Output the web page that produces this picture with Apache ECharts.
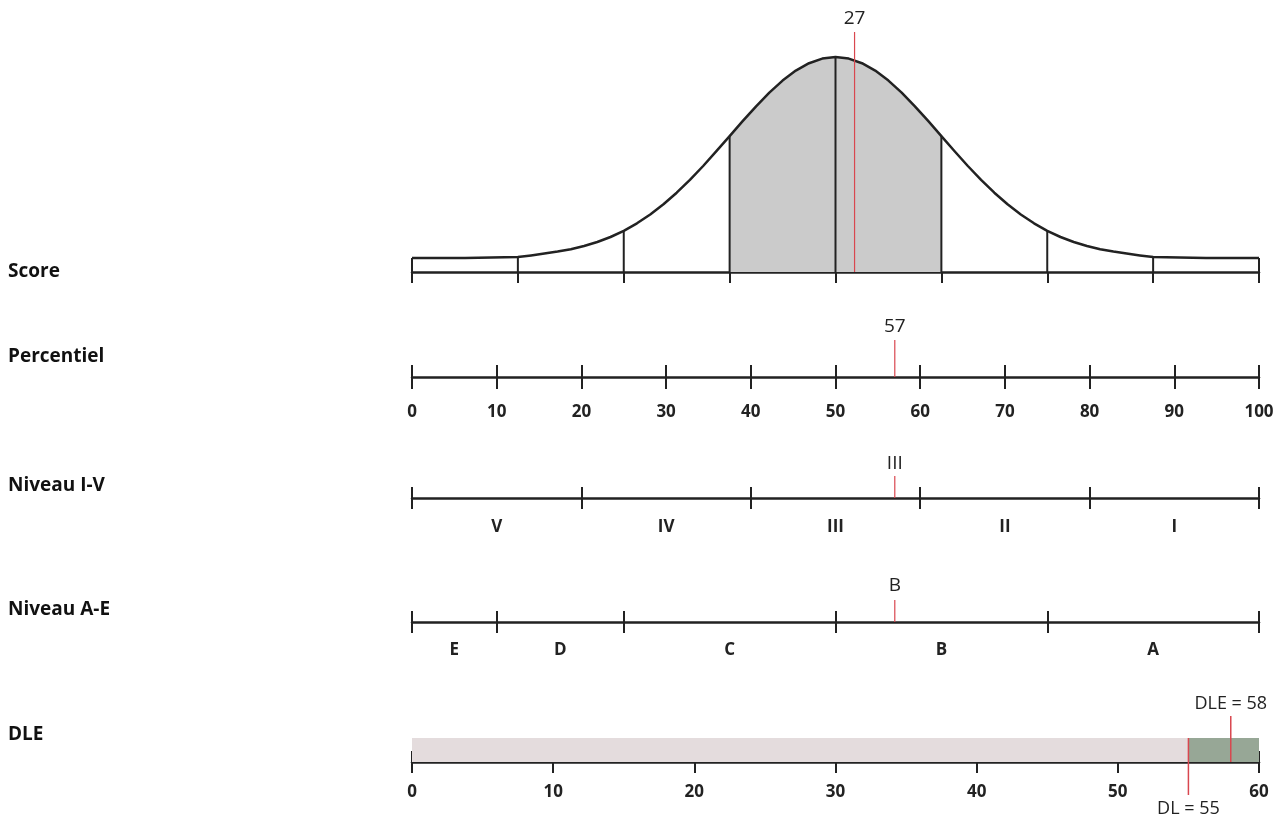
<!DOCTYPE html>
<html>
<head>
<meta charset="utf-8">
<script src="https://cdn.jsdelivr.net/npm/echarts@6/dist/echarts.min.js"></script>
<style>html,body{margin:0;padding:0;background:#fff}#c{width:1280px;height:821px}</style>
</head>
<body>
<div id="c"></div>
<script>
// ---------- data ----------
const rowTitles = ['Score', 'Percentiel', 'Niveau I-V', 'Niveau A-E', 'DLE'];

// Score row: normal curve in z units, heights (px above the axis)
const scoreZ = [-4, -3.5, -3, -2.875, -2.75, -2.625, -2.5, -2.375, -2.25, -2.125, -2, -1.875, -1.75, -1.625, -1.5, -1.375, -1.25, -1.125, -1, -0.875, -0.75, -0.625, -0.5, -0.375, -0.25, -0.125,
  0, 0.125, 0.25, 0.375, 0.5, 0.625, 0.75, 0.875, 1, 1.125, 1.25, 1.375, 1.5, 1.625, 1.75, 1.875, 2, 2.125, 2.25, 2.375, 2.5, 2.625, 2.75, 2.875, 3, 3.5, 4];
const scoreCurve = [14, 14, 15, 16.6, 18.4, 20.4, 22.8, 26, 30, 35, 41.2, 48.7, 57.5, 67.7, 79.3, 92.1, 106, 120.8, 135.9, 151.1, 165.7, 179.3, 191.4, 201.4, 208.8, 213.4,
  215, 213.4, 208.8, 201.4, 191.4, 179.3, 165.7, 151.1, 135.9, 120.8, 106, 92.1, 79.3, 67.7, 57.5, 48.7, 41.2, 35, 30, 26, 22.8, 20.4, 18.4, 16.6, 15, 14, 14];
const scoreTicks = [-4, -3, -2, -1, 0, 1, 2, 3, 4];
const scoreShadeFrom = -1, scoreShadeTo = 1;
const scoreMarker = 0.18, scoreMarkerLabel = '27';

// Percentiel row
const percentielTicks = [0, 10, 20, 30, 40, 50, 60, 70, 80, 90, 100];
const percentielMarker = 57, percentielMarkerLabel = '57';

// Niveau I-V row
const niveauIVBounds = [0, 20, 40, 60, 80, 100];
const niveauIVLabels = ['V', 'IV', 'III', 'II', 'I'];
const niveauIVMarker = 57, niveauIVMarkerLabel = 'III';

// Niveau A-E row
const niveauAEBounds = [0, 10, 25, 50, 75, 100];
const niveauAELabels = ['E', 'D', 'C', 'B', 'A'];
const niveauAEMarker = 57, niveauAEMarkerLabel = 'B';

// DLE row
const dleTicks = [0, 10, 20, 30, 40, 50, 60];
const dleBands = [0, 55, 60];
const dlValue = 55, dlLabel = 'DL = 55';
const dleValue = 58, dleLabel = 'DLE = 58';

// ---------- styles ----------
const FONT = 'Open Sans';
const INK = '#222222';
const RED = '#d9474f';
const bandColors = ['#e4dcdd', '#97a796'];

const mid = b => b.slice(0, -1).map((v, i) => (v + b[i + 1]) / 2);

const grids = [
  {left: 412, right: 21, top: 32, height: 240},   // score, axis y=272
  {left: 412, right: 21, top: 340, height: 37},   // percentiel, axis y=377
  {left: 412, right: 21, top: 476, height: 22},   // I-V axis y=498
  {left: 412, right: 21, top: 600, height: 22},   // A-E axis y=622
  {left: 412, right: 21, top: 716, height: 46}    // DLE axis y=762
];

function axisPair(grid, min, max, tickVals, labelVals, labelFmt, tickLen, labelMargin) {
  const base = {
    type: 'value', gridIndex: grid, min: min, max: max, position: 'bottom',
    splitLine: {show: false},
    axisLine: {show: true, onZero: false, lineStyle: {color: INK, width: 2.5}}
  };
  const outer = Object.assign({}, base, {
    axisTick: {show: true, length: tickLen, inside: false, customValues: tickVals, lineStyle: {color: INK, width: 2}},
    axisLabel: labelVals ? {show: true, customValues: labelVals, formatter: labelFmt, margin: labelMargin,
      color: INK, fontFamily: FONT, fontWeight: 'bold', fontSize: 17} : {show: false}
  });
  const inner = Object.assign({}, base, {
    axisLine: {show: false},
    axisTick: {show: true, length: tickLen, inside: true, customValues: tickVals, lineStyle: {color: INK, width: 2}},
    axisLabel: {show: false}
  });
  return [outer, inner];
}

const xAxes = [];
// 0: score (ticks only downward)
xAxes.push({
  type: 'value', gridIndex: 0, min: -4, max: 4, position: 'bottom', splitLine: {show: false},
  axisLine: {show: true, onZero: false, lineStyle: {color: INK, width: 2.5}},
  axisTick: {show: true, length: 11, customValues: scoreTicks, lineStyle: {color: INK, width: 2}},
  axisLabel: {show: false}
});
// 1,2 percentiel
xAxes.push(...axisPair(1, 0, 100, percentielTicks, percentielTicks, v => String(v), 12, 27));
// 3,4 I-V
const ivMid = mid(niveauIVBounds);
xAxes.push(...axisPair(2, 0, 100, niveauIVBounds, ivMid, v => niveauIVLabels[ivMid.indexOf(v)] || '', 11, 21));
// 5,6 A-E
const aeMid = mid(niveauAEBounds);
xAxes.push(...axisPair(3, 0, 100, niveauAEBounds, aeMid, v => niveauAELabels[aeMid.indexOf(v)] || '', 11, 20));
// 7,8 DLE
xAxes.push(...axisPair(4, 0, 60, dleTicks, dleTicks, v => String(v), 11, 22));

const yAxes = [
  {type: 'value', gridIndex: 0, min: 0, max: 240, show: false},
  {type: 'value', gridIndex: 1, min: 0, max: 1, show: false},
  {type: 'value', gridIndex: 2, min: 0, max: 1, show: false},
  {type: 'value', gridIndex: 3, min: 0, max: 1, show: false},
  {type: 'value', gridIndex: 4, min: 0, max: 46, show: false}
];

const curveData = scoreZ.map((z, i) => [z, scoreCurve[i]]);
const shadeData = curveData.filter(d => d[0] >= scoreShadeFrom && d[0] <= scoreShadeTo);
const tickData = scoreTicks.map(z => [z, scoreCurve[scoreZ.indexOf(z)]]);

function markerSeries(xi, yi, value, label, top, textGap) {
  return {
    type: 'custom', xAxisIndex: xi, yAxisIndex: yi, data: [[value, top]], z: 5,
    renderItem: function (params, api) {
      const p0 = api.coord([api.value(0), 0]);
      const p1 = api.coord([api.value(0), api.value(1)]);
      return {type: 'group', children: [
        {type: 'line', shape: {x1: p0[0], y1: p0[1], x2: p1[0], y2: p1[1]}, style: {stroke: RED, lineWidth: 1.2}},
        {type: 'text', style: {text: label, x: p1[0], y: p1[1] - textGap, align: 'center', verticalAlign: 'middle',
          fill: INK, fontFamily: FONT, fontSize: 19}}
      ]};
    }
  };
}

const series = [
  {type: 'line', xAxisIndex: 0, yAxisIndex: 0, data: shadeData, smooth: false, symbol: 'none',
   lineStyle: {width: 0}, areaStyle: {color: '#cbcbcb', opacity: 1, origin: 'start'}, z: 1, silent: true},
  {type: 'line', xAxisIndex: 0, yAxisIndex: 0, data: curveData, smooth: false, symbol: 'none',
   lineStyle: {color: INK, width: 2.5, join: 'round'}, z: 3, silent: true},
  {type: 'custom', xAxisIndex: 0, yAxisIndex: 0, data: tickData, z: 2,
   renderItem: function (params, api) {
     const p0 = api.coord([api.value(0), 0]);
     const p1 = api.coord([api.value(0), api.value(1)]);
     return {type: 'line', shape: {x1: p0[0], y1: p0[1], x2: p1[0], y2: p1[1]}, style: {stroke: INK, lineWidth: 2}};
   }},
  markerSeries(0, 0, scoreMarker, scoreMarkerLabel, 240, 13),
  markerSeries(1, 1, percentielMarker, percentielMarkerLabel, 1, 13),
  markerSeries(3, 2, niveauIVMarker, niveauIVMarkerLabel, 1, 12),
  markerSeries(5, 3, niveauAEMarker, niveauAEMarkerLabel, 1, 14),
  // DLE bands
  {type: 'custom', xAxisIndex: 7, yAxisIndex: 4, z: 1,
   data: dleBands.slice(0, -1).map((v, i) => [v, dleBands[i + 1], 24]),
   renderItem: function (params, api) {
     const a = api.coord([api.value(0), 0]);
     const b = api.coord([api.value(1), api.value(2)]);
     return {type: 'rect', shape: {x: a[0], y: b[1], width: b[0] - a[0], height: a[1] - b[1]},
       style: {fill: bandColors[params.dataIndex]}};
   }},
  // DL (below) marker
  {type: 'custom', xAxisIndex: 7, yAxisIndex: 4, z: 5, data: [[dlValue, 24, -33]],
   renderItem: function (params, api) {
     const p0 = api.coord([api.value(0), api.value(1)]);
     const p1 = api.coord([api.value(0), api.value(2)]);
     return {type: 'group', children: [
       {type: 'line', shape: {x1: p0[0], y1: p0[1], x2: p1[0], y2: p1[1]}, style: {stroke: RED, lineWidth: 1.5}},
       {type: 'text', style: {text: dlLabel, x: p1[0], y: p1[1] + 14, align: 'center', verticalAlign: 'middle',
         fill: INK, fontFamily: FONT, fontSize: 18}}
     ]};
   }},
  // DLE (above) marker
  {type: 'custom', xAxisIndex: 7, yAxisIndex: 4, z: 5, data: [[dleValue, 0, 46]],
   renderItem: function (params, api) {
     const p0 = api.coord([api.value(0), api.value(1)]);
     const p1 = api.coord([api.value(0), api.value(2)]);
     return {type: 'group', children: [
       {type: 'line', shape: {x1: p0[0], y1: p0[1], x2: p1[0], y2: p1[1]}, style: {stroke: RED, lineWidth: 1.5}},
       {type: 'text', style: {text: dleLabel, x: p1[0], y: p1[1] - 12, align: 'center', verticalAlign: 'middle',
         fill: INK, fontFamily: FONT, fontSize: 18}}
     ]};
   }}
];

const titleY = [272, 357, 486, 610, 735];
const graphic = rowTitles.map((t, i) => ({
  type: 'text', x: 8, y: titleY[i],
  style: {text: t, fill: '#111', fontFamily: FONT, fontWeight: 'bold', fontSize: 19, verticalAlign: 'middle'}
}));

const chart = echarts.init(document.getElementById('c'), null, {renderer: 'canvas'});
chart.setOption({
  animation: false,
  backgroundColor: '#ffffff',
  grid: grids,
  xAxis: xAxes,
  yAxis: yAxes,
  series: series,
  graphic: graphic
});
</script>
</body>
</html>
